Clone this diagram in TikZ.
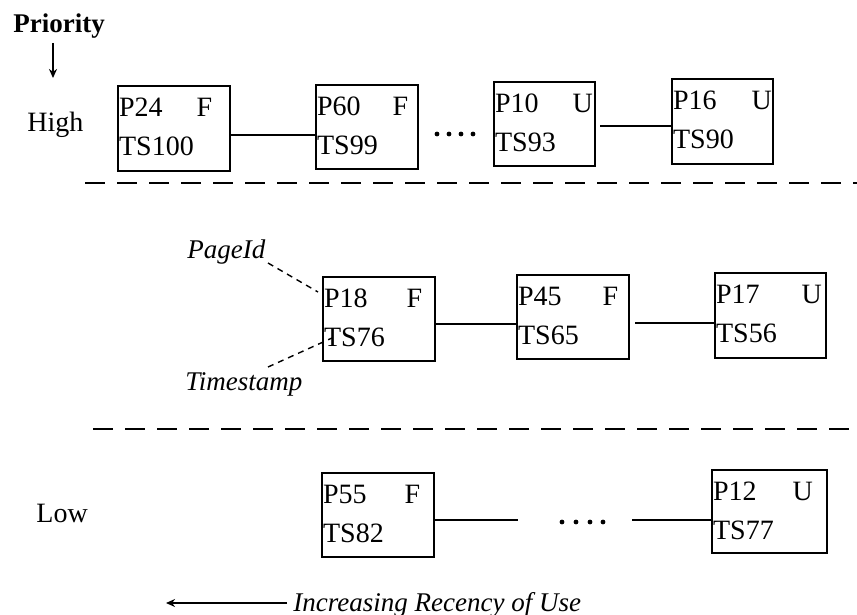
\documentclass[tikz,border=0pt]{standalone}
\usepackage{fontspec}
\setmainfont{Liberation Serif}
\usetikzlibrary{calc,arrows.meta}
\tikzset{
  pbox/.style={draw, line width=0.8pt, inner sep=0pt},
  ptxt/.style={anchor=base west, inner sep=0pt},
  link/.style={line width=0.8pt},
  sep/.style={line width=0.7pt, dash pattern=on 10pt off 6pt},
  leader/.style={line width=0.7pt, dash pattern=on 3pt off 2.5pt},
  dotmark/.style={fill, circle, inner sep=0pt, minimum size=2.4pt},
  lbl/.style={anchor=base west, inner sep=0pt},
}
% #1 name, #2 left, #3 top, #4 right, #5 bottom, #6 page id, #7 flag, #8 timestamp, #9 flag offset
\newcommand\pagebox[9]{%
  \node[pbox, minimum width={(#4-#2)*0.5pt}, minimum height={(#5-#3)*0.5pt}]
    (#1) at ({(#2+#4)/2},{(#3+#5)/2}) {};
  \node[ptxt] (#1-id) at ($(#1.north west)+(1.5,31)$) {#6};
  \node[ptxt] (#1-fl) at ($(#1.north west)+(#9,31)$) {#7};
  \node[ptxt] (#1-ts) at ($(#1.north west)+(1.5,70)$) {#8};
}
\begin{document}
\begin{tikzpicture}[x=0.5pt, y=-0.5pt, font=\fontsize{14}{16}\selectfont]
\useasboundingbox (0,0) rectangle (857,615);

% axis labels
\node[lbl, font=\fontsize{13.5}{16}\selectfont\bfseries] (prio) at (13,33) {Priority};
\coordinate (pa1) at (53,43);
\coordinate (pa2) at (53,78);
\draw[link, -{Stealth[length=4.5pt, width=4pt]}] (pa1) -- (pa2);
\node[lbl] (high) at (27,132) {High};
\node[lbl] (low) at (36,522) {Low};

% row 1
\pagebox{p24}{118}{86}{230}{171}{P24}{F}{TS100}{79}
\pagebox{p60}{316}{85}{418}{169}{P60}{F}{TS99}{77}
\pagebox{p10}{494}{82}{595}{166}{P10}{U}{TS93}{79}
\pagebox{p16}{672}{79}{773}{164}{P16}{U}{TS90}{80}
\draw[link] (p24.east |- 0,135) -- (p60.west |- 0,135);
\foreach \i/\x in {1/437,2/449,3/461,4/473}
  \node[dotmark] (d1\i) at (\x,134) {};
\coordinate (l1a) at (600,126);
\draw[link] (l1a) -- (p16.west |- l1a);

% separator 1
\coordinate (s1a) at (85,183);
\coordinate (s1b) at (857,183);
\draw[sep] (s1a) -- (s1b);

% row 2
\pagebox{p18}{323}{277}{435}{361}{P18}{F}{TS76}{84}
\pagebox{p45}{517}{275}{629}{359}{P45}{F}{TS65}{86}
\pagebox{p17}{715}{273}{826}{358}{P17}{U}{TS56}{87}
\draw[link] (p18.east |- 0,324) -- (p45.west |- 0,324);
\coordinate (l2a) at (635,323);
\draw[link] (l2a) -- (p17.west |- l2a);

\node[lbl, font=\fontsize{13.5}{16}\selectfont\itshape] (pageid) at (187,258) {PageId};
\node[lbl, font=\fontsize{13.5}{16}\selectfont\itshape] (tstamp) at (185,390) {Timestamp};
\coordinate (pl1) at (268,263);
\coordinate (pl2) at (318,292);
\draw[leader] (pl1) -- (pl2);
\coordinate (tl1) at (268,367);
\coordinate (tl2) at (332,338);
\draw[leader] (tl1) -- (tl2);

% separator 2
\coordinate (s2a) at (93,429);
\coordinate (s2b) at (857,429);
\draw[sep] (s2a) -- (s2b);

% row 3
\pagebox{p55}{322}{473}{434}{557}{P55}{F}{TS82}{83}
\pagebox{p12}{712}{470}{827}{553}{P12}{U}{TS77}{81}
\coordinate (l3a) at (518,520);
\coordinate (l3b) at (632,520);
\draw[link] (p55.east |- l3a) -- (l3a);
\draw[link] (l3b) -- (p12.west |- l3b);
\foreach \i/\x in {1/562,2/576,3/590,4/603}
  \node[dotmark] (d3\i) at (\x,522) {};

% recency arrow
\coordinate (ra1) at (287,603);
\coordinate (ra2) at (166,603);
\draw[link, -{Stealth[length=4.5pt, width=4pt]}] (ra1) -- (ra2);
\node[lbl, font=\fontsize{13.5}{16}\selectfont\itshape] (recency) at (293,611) {Increasing Recency of Use};
\end{tikzpicture}
\end{document}
